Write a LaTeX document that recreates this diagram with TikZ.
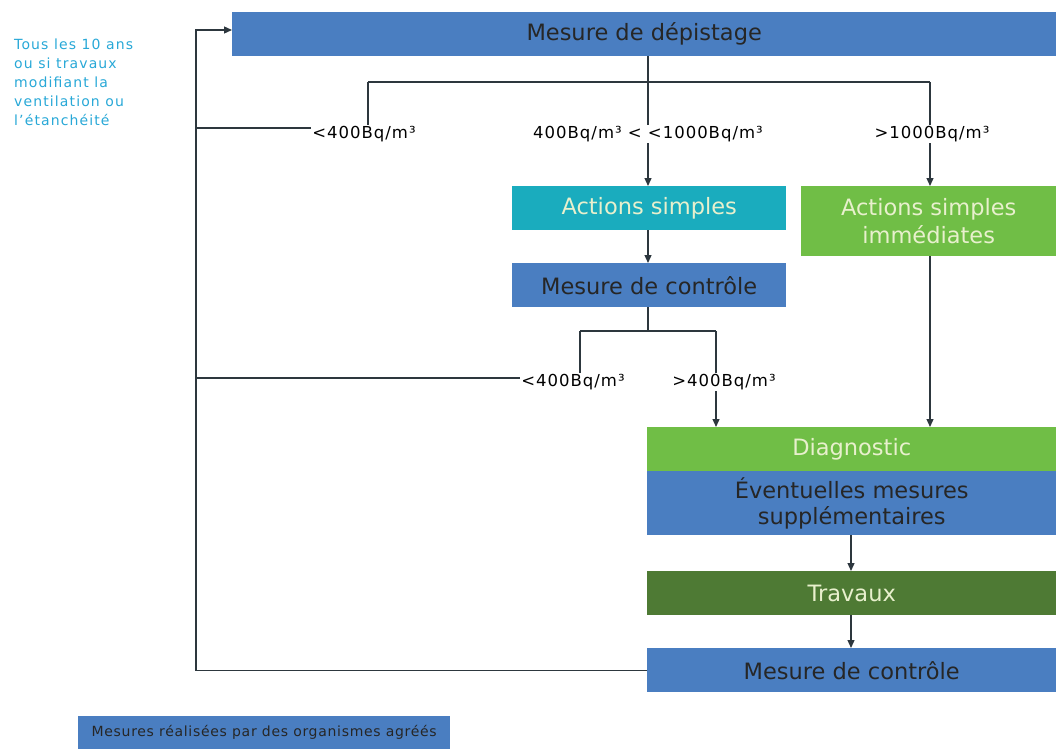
\documentclass[tikz,border=0pt]{standalone}
\usepackage{fontspec}
\setmainfont{DejaVu Sans}
\usetikzlibrary{arrows.meta}
\definecolor{boxblue}{RGB}{74,126,193}
\definecolor{boxteal}{RGB}{26,172,190}
\definecolor{boxgreen}{RGB}{112,190,70}
\definecolor{boxdark}{RGB}{78,122,52}
\definecolor{paletext}{RGB}{232,240,205}
\definecolor{linecol}{RGB}{45,55,62}
\definecolor{cyantext}{RGB}{40,168,215}
\tikzset{
  box/.style={rectangle, inner sep=0pt, anchor=north west, align=center, font=\fontsize{22.5}{25}\selectfont},
  lab/.style={inner sep=1pt, font=\fontsize{16.5}{18}\selectfont\addfontfeatures{LetterSpace=6}},
  conn/.style={draw=linecol, line width=1.3pt},
  arr/.style={conn, -{Triangle[length=8pt,width=7pt]}},
}
\begin{document}
\begin{tikzpicture}[x=1pt,y=-1pt]
\useasboundingbox (0,0) rectangle (1056,749);
% boxes
\node[box, fill=boxblue, minimum width=824pt, minimum height=44pt, text=black!85] (top) at (232,12) {Mesure de dépistage};
\node[box, fill=boxteal, minimum width=274pt, minimum height=44pt, text=paletext] (as1) at (512,186) {Actions simples};
\node[box, fill=boxgreen, minimum width=255pt, minimum height=70pt, text=paletext, font=\fontsize{22.5}{28}\selectfont] (asi) at (801,186) {Actions simples\\immédiates};
\node[box, fill=boxblue, minimum width=274pt, minimum height=44pt, text=black!85] (mc1) at (512,263) {Mesure de contrôle};
\node[box, fill=boxgreen, minimum width=409pt, minimum height=44pt, text=paletext] (diag) at (647,427) {Diagnostic};
\node[box, fill=boxblue, minimum width=409pt, minimum height=64pt, text=black!85, font=\fontsize{22.5}{26}\selectfont] (ev) at (647,471) {Éventuelles mesures\\supplémentaires};
\node[box, fill=boxdark, minimum width=409pt, minimum height=44pt, text=paletext] (trav) at (647,571) {Travaux};
\node[box, fill=boxblue, minimum width=409pt, minimum height=44pt, text=black!85] (mc2) at (647,648) {Mesure de contrôle};
\node[box, fill=boxblue, minimum width=372pt, minimum height=33pt, text=black!85, font=\fontsize{14}{16}\selectfont\addfontfeatures{LetterSpace=5}] (leg) at (78,716) {Mesures réalisées par des organismes agréés};
% side text
\node[anchor=north west, inner sep=0pt, align=left, text=cyantext, font=\fontsize{14}{19}\selectfont\addfontfeatures{LetterSpace=8}] (side) at (14,39) {Tous les 10 ans\\ou si travaux\\modifiant la\\ventilation ou\\l’étanchéité};
% labels
\node[lab] (l1) at (364,134) {<400Bq/m³};
\node[lab] (l2) at (648,134) {400Bq/m³ < <1000Bq/m³};
\node[lab] (l3) at (932,134) {>1000Bq/m³};
\node[lab] (l4) at (573,382) {<400Bq/m³};
\node[lab] (l5) at (724,382) {>400Bq/m³};
% coordinates
\coordinate (b1) at (648,82);
\coordinate (b1l) at (368,82);
\coordinate (b1r) at (930,82);
\coordinate (b2) at (648,331);
\coordinate (b2l) at (580,331);
\coordinate (b2r) at (716,331);
\coordinate (fbt) at (196,30);
\coordinate (fb1) at (196,128);
\coordinate (fb2) at (196,378);
% connectors
\draw[conn] (top.south -| b1) -- (b1);
\draw[conn] (b1l) -- (b1r);
\draw[conn] (b1l) -- (l1.north -| b1l);
\draw[conn] (b1) -- (l2.north -| b1);
\draw[conn] (b1r) -- (l3.north -| b1r);
\draw[arr] (l2.south -| b1) -- (as1.north -| b1);
\draw[arr] (l3.south -| b1r) -- (asi.north -| b1r);
\draw[arr] (as1.south -| b1) -- (mc1.north -| b1);
\draw[conn] (mc1.south -| b2) -- (b2);
\draw[conn] (b2l) -- (b2r);
\draw[conn] (b2l) -- (l4.north -| b2l);
\draw[conn] (b2r) -- (l5.north -| b2r);
\draw[arr] (l5.south -| b2r) -- (diag.north -| b2r);
\draw[arr] (asi.south -| b1r) -- (diag.north -| b1r);
\draw[arr] (ev.south -| 851,0) -- (trav.north -| 851,0);
\draw[arr] (trav.south -| 851,0) -- (mc2.north -| 851,0);
\draw[arr] (mc2.west) -| (fbt) -- (top.west |- fbt);
\draw[conn] (fb1) -- (l1.west |- fb1);
\draw[conn] (fb2) -- (l4.west |- fb2);
\end{tikzpicture}
\end{document}
